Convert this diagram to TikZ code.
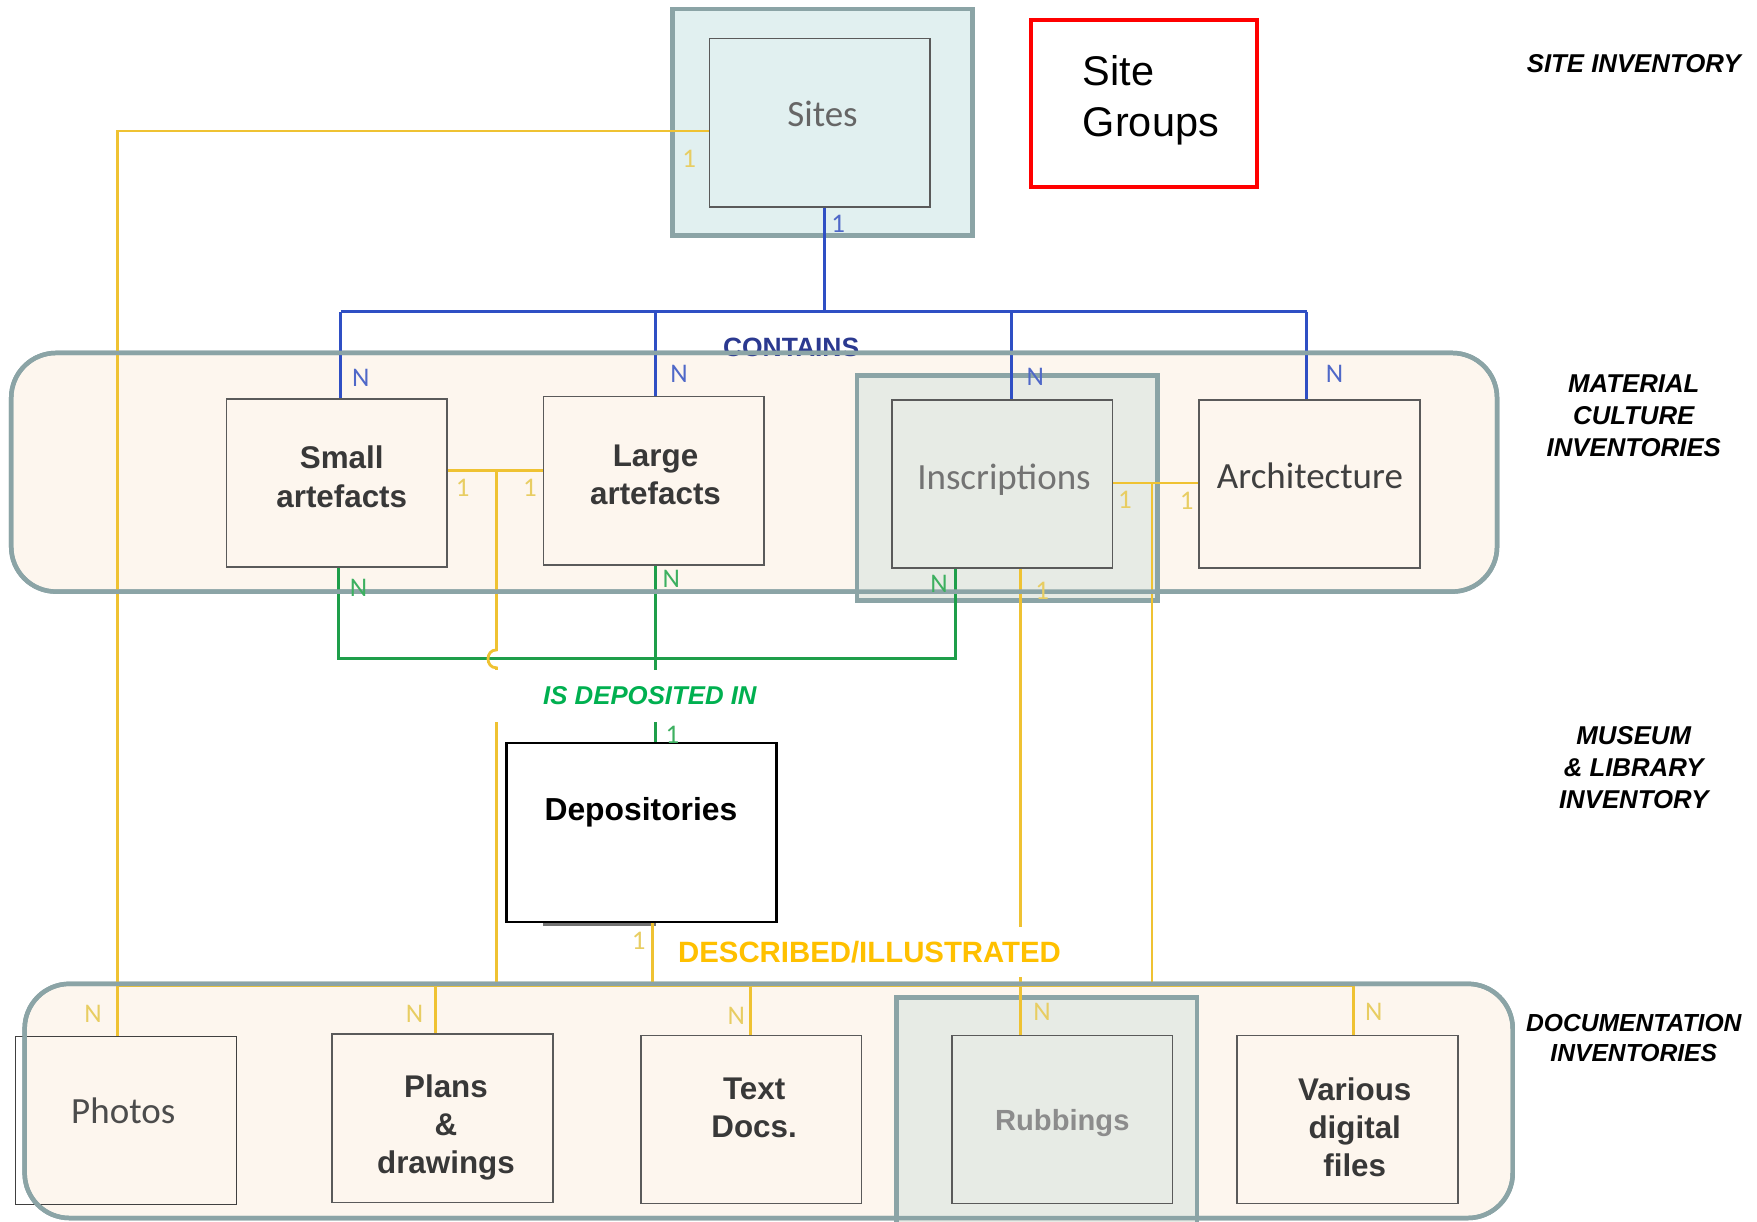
\documentclass[tikz,border=0pt]{standalone}
\usepackage{fontspec}
\setmainfont{Liberation Sans}
\newfontfamily\calib{Carlito}
\definecolor{bandfill}{HTML}{FDF6EE}
\definecolor{bandedge}{HTML}{8BA4A6}
\definecolor{sitesfill}{HTML}{E1F0F0}
\definecolor{grpfill}{HTML}{E7EBE5}
\definecolor{boxedge}{HTML}{5A5A5A}
\definecolor{cblue}{HTML}{2F4FC4}
\definecolor{cgreen}{HTML}{1E9E4A}
\definecolor{cyel}{HTML}{EFC232}
\definecolor{lblue}{HTML}{4F68C8}
\definecolor{lgreen}{HTML}{3DB060}
\definecolor{lyel}{HTML}{E8CD62}
\definecolor{contains}{HTML}{2B3990}
\definecolor{deposited}{HTML}{00B050}
\definecolor{described}{HTML}{FFC000}
\begin{document}
\begin{tikzpicture}[x=0.5pt,y=-0.5pt,
  band/.style={fill=bandfill, draw=bandedge, line width=2pt, rounded corners=20pt, inner sep=0},
  bandline/.style={draw=bandedge, line width=2pt, rounded corners=20pt, inner sep=0},
  grpbox/.style={draw=bandedge, line width=2pt, inner sep=0, minimum width=134pt},
  ent/.style={draw=boxedge, line width=0.7pt, minimum width=98.5pt, minimum height=75pt, inner sep=0},
  txtA/.style={inner sep=0, align=center, font=\bfseries\fontsize{14}{17}\selectfont, text=black!78},
  txtC/.style={inner sep=0, align=center, font=\calib\fontsize{16.5}{20}\selectfont},
  blueln/.style={draw=cblue, line width=1.25pt},
  greenln/.style={draw=cgreen, line width=1.25pt},
  yelln/.style={draw=cyel, line width=1.25pt},
  card/.style={font=\calib\fontsize{12}{12}\selectfont, inner sep=0},
  side/.style={font=\bfseries\itshape\fontsize{11.5}{14.25}\selectfont, align=center, inner sep=0}
]
\clip (0,0) rectangle (1568,1090);
\fill[white] (0,0) rectangle (1568,1090);

% group containers
\node[grpbox, fill=sitesfill, minimum height=101pt] (sitesOuter) at (734,109) {};
\node[band, minimum width=663pt, minimum height=106.5pt] (matband) at (673,421.5) {};
\node[band, minimum width=664pt, minimum height=104.5pt] (docband) at (686,982.5) {};
\node[grpbox, fill=grpfill, minimum height=100.5pt] (inscOuter) at (899,435.5) {};
\node[grpbox, fill=grpfill, minimum height=105pt] (rubOuter) at (934,995) {};

% entities
\node[ent] (sitesIn) at (731.5,109.5) {};
\node[txtC, text=black!60] (sitesT) at (734,102) {Sites};
\node[draw=red, line width=2pt, minimum width=101pt, minimum height=74.5pt, inner sep=0] (siteGroups) at (1021,92.5) {};
\node[inner sep=0, align=left, anchor=west, font=\fontsize{18.5}{22.5}\selectfont] (siteGroupsT) at (966,89.5) {Site\\Groups};
\node[ent] (small) at (300.5,431) {};
\node[txtA] (smallT) at (305,425.5) {Small\\artefacts};
\node[ent] (large) at (583.5,429) {};
\node[txtA] (largeT) at (585,424) {Large\\artefacts};
\node[ent] (insc) at (894.5,432) {};
\node[txtC, text=black!55] (inscT) at (896,428) {Inscriptions};
\node[ent] (arch) at (1168.5,432) {};
\node[txtC, text=black!75] (archT) at (1169,425) {Architecture};
\node[draw=black, line width=1pt, fill=white, minimum width=120.5pt, minimum height=80pt, inner sep=0] (depos) at (572.5,743) {};
\node[font=\bfseries\fontsize{14.2}{17}\selectfont, inner sep=0] (deposText) at (572,725) {Depositories};
\draw[black!55, line width=1.5pt] (485,825) -- (585,825);
\node[ent, draw=black!75] (photos) at (112.5,1000) {};
\node[txtC, text=black!70] (photosT) at (110,991) {Photos};
\node[ent] (plans) at (395,998) {};
\node[txtA] (plansT) at (398,1006) {Plans\\\&\\drawings};
\node[ent] (textdocs) at (670.5,999) {};
\node[txtA] (textdocsT) at (673,989) {Text\\Docs.};
\node[ent] (rub) at (948,999) {};
\node[txtA, text=black!45, font=\bfseries\fontsize{13}{16}\selectfont] (rubT) at (948,1002) {Rubbings};
\node[ent] (various) at (1202.5,999) {};
\node[txtA] (variousT) at (1209,1006) {Various\\digital\\files};

% CONTAINS (blue)
\coordinate (cTop) at (736,278);
\coordinate (cSmall) at (304,278);
\coordinate (cLarge) at (585,278);
\coordinate (cInsc) at (903,278);
\coordinate (cArch) at (1166,278);
\draw[blueln] (sitesIn.south -| cTop) -- (cTop);
\draw[blueln] (cSmall) -- (cArch);
\draw[blueln] (cSmall) -- (cSmall |- small.north);
\draw[blueln] (cLarge) -- (cLarge |- large.north);
\draw[blueln] (cInsc) -- (cInsc |- insc.north);
\draw[blueln] (cArch) -- (cArch |- arch.north);

% IS DEPOSITED IN (green)
\coordinate (gL) at (302,588);
\coordinate (gM) at (585,588);
\coordinate (gR) at (853,588);
\draw[greenln] (small.south -| gL) -- (gL) -- (gR) -- (gR |- insc.south);
\draw[greenln] (large.south -| gM) -- (depos.north -| gM);

% DESCRIBED/ILLUSTRATED (yellow)
\coordinate (yPh) at (105,117);
\coordinate (yj) at (443,420);
\coordinate (yk) at (1028,431);
\coordinate (yR) at (911,880);
\coordinate (yD) at (582,880);
\coordinate (bL) at (105,880);
\coordinate (bPl) at (389,880);
\coordinate (bTx) at (670,880);
\coordinate (bVa) at (1208,880);
\draw[yelln] (sitesIn.west |- yPh) -- (yPh) -- (yPh |- photos.north);
\draw[yelln] (small.east |- yj) -- (large.west |- yj);
\draw[yelln] (yj) -- (443,580) .. controls (433,580) and (433,596) .. (443,596) -- (443,880);
\draw[yelln] (insc.east |- yk) -- (arch.west |- yk);
\draw[yelln] (yk) -- (1028,880);
\draw[yelln] (yR |- insc.south) -- (yR |- rub.north);
\draw[yelln] (depos.south -| yD) -- (yD);
\draw[yelln] (bL) -- (bVa);
\draw[yelln] (bPl) -- (bPl |- plans.north);
\draw[yelln] (bTx) -- (bTx |- textdocs.north);
\draw[yelln] (bVa) -- (bVa |- various.north);

% relation label partly under the band edge
\node[font=\bfseries\fontsize{11.8}{12}\selectfont, text=contains, inner sep=0] (lContains) at (706,310) {CONTAINS};

% band edges on top of the connectors
\node[bandline, minimum width=663pt, minimum height=106.5pt] (matbandEdge) at (673,421.5) {};
\node[bandline, minimum width=664pt, minimum height=104.5pt] (docbandEdge) at (686,982.5) {};

% relation labels with white ground
\node[fill=white, minimum width=145pt, minimum height=23.5pt, inner sep=0,
      font=\bfseries\itshape\fontsize{11.5}{12}\selectfont, text=deposited] (lDeposited) at (580,621) {IS DEPOSITED IN};
\node[fill=white, minimum width=180pt, minimum height=22.5pt, inner sep=0,
      font=\bfseries\fontsize{13.1}{14}\selectfont, text=described] (lDescribed) at (776,849.5) {DESCRIBED/ILLUSTRATED};

% cardinalities
\node[card, text=lblue] (b1) at (748,200) {1};
\node[card, text=lblue] (bN1) at (322,337) {N};
\node[card, text=lblue] (bN2) at (606,334) {N};
\node[card, text=lblue] (bN3) at (924,336) {N};
\node[card, text=lblue] (bN4) at (1191,334) {N};
\node[card, text=lgreen] (gN1) at (320,525) {N};
\node[card, text=lgreen] (gN2) at (599,517) {N};
\node[card, text=lgreen] (gN3) at (838,521) {N};
\node[card, text=lgreen] (g1) at (600,656) {1};
\node[card, text=lyel] (y1) at (615,142) {1};
\node[card, text=lyel] (y2) at (413,435) {1};
\node[card, text=lyel] (y3) at (473,435) {1};
\node[card, text=lyel] (y4) at (1004,446) {1};
\node[card, text=lyel] (y5) at (1059,447) {1};
\node[card, text=lyel] (y6) at (930,527) {1};
\node[card, text=lyel] (y7) at (570,840) {1};
\node[card, text=lyel] (yN1) at (83,905) {N};
\node[card, text=lyel] (yN2) at (370,905) {N};
\node[card, text=lyel] (yN3) at (657,907) {N};
\node[card, text=lyel] (yN4) at (930,903) {N};
\node[card, text=lyel] (yN5) at (1226,903) {N};

% side labels
\node[side] (sSite) at (1458,57) {SITE INVENTORY};
\node[side] (sMat) at (1458,371) {MATERIAL\\CULTURE\\INVENTORIES};
\node[side] (sMus) at (1458,685) {MUSEUM\\\& LIBRARY\\INVENTORY};
\node[side, font=\bfseries\itshape\fontsize{11}{13.5}\selectfont] (sDoc) at (1458,926.5) {DOCUMENTATION\\INVENTORIES};
\end{tikzpicture}
\end{document}
